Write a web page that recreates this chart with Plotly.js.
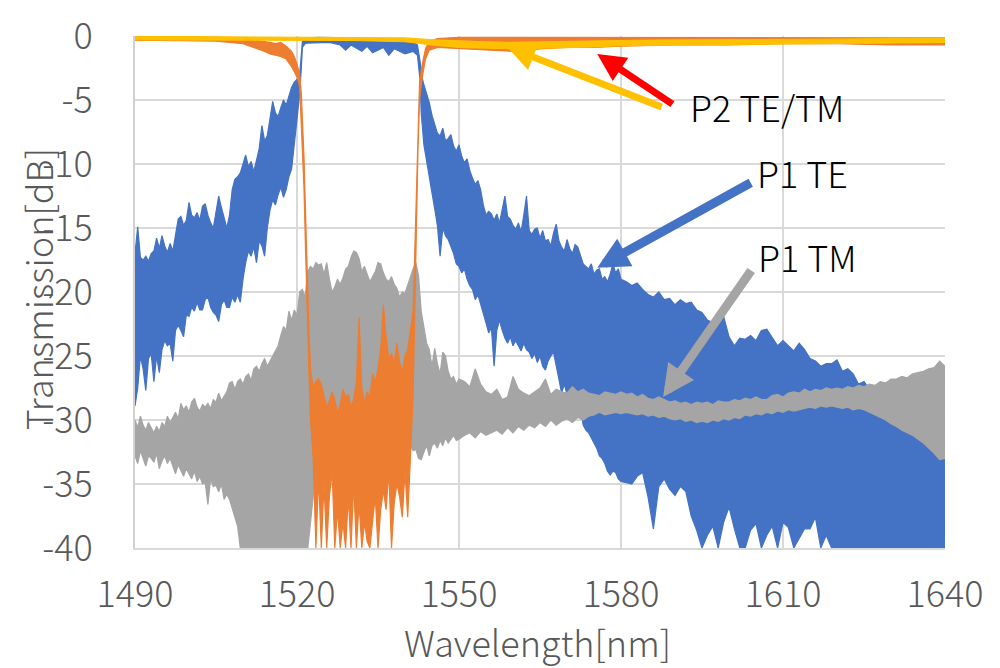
<!DOCTYPE html>
<html>
<head>
<meta charset="utf-8">
<script src="https://cdn.plot.ly/plotly-3.0.1.min.js"></script>
<style>
html,body{margin:0;padding:0;background:#fff;}
#chart{width:1000px;height:668px;}
</style>
</head>
<body>
<div id="chart"></div>
<script>
// ---------- tick labels ----------
const xTickVals = [1490, 1520, 1550, 1580, 1610, 1640];
const xTickText = ['1490', '1520', '1550', '1580', '1610', '1640'];
const yTickVals = [0, -5, -10, -15, -20, -25, -30, -35, -40];
const yTickText = ['0', '-5', '-10', '-15', '-20', '-25', '-30', '-35', '-40'];

// ---------- P1 TE (blue): wavelength, upper / lower envelope of the trace [dB] ----------
const p1teX = [
 1490,1490.5,1491,1491.5,1492,1492.5,1493,1493.5,1494,1494.5,
 1495,1495.5,1496,1496.5,1497,1497.5,1498,1498.5,1499,1499.5,
 1500,1500.5,1501,1501.5,1502,1502.5,1503,1503.5,1504,1504.5,
 1505,1505.5,1506,1506.5,1507,1507.5,1508,1508.5,1509,1509.5,
 1510,1510.5,1511,1511.5,1512,1512.5,1513,1513.5,1514,1514.5,
 1515,1515.5,1516,1516.5,1517,1517.5,1518,1518.5,1519,1519.5,
 1520,1520.5,
 1520.8,1521,1521.5,1522,1524,1526,1528,1529,1530,1532,1533,1534,1536,1537,1538,1540,1541.5,1542.3,1542.8,
 1543,1543.5,1544,1544.5,1545,1545.5,1546,1546.5,1547,1547.5,
 1548,1548.5,1549,1549.5,1550,1550.5,1551,1551.5,1552,1552.5,
 1553,1553.5,1554,1554.5,1555,1555.5,1556,1556.5,1557,1557.5,
 1558,1558.5,1559,1559.5,1560,1560.5,1561,1561.5,1562,1562.5,
 1563,1563.5,1564,1564.5,1565,1565.5,1566,1566.5,1567,1567.5,
 1568,1568.5,1569,1569.5,1570,1570.5,1571,1571.5,1572,1572.5,
 1573,1573.5,1574,1574.5,1575,1575.5,1576,1576.5,1577,1577.5,
 1578,1578.5,1579,1579.5,1580,
 1581,1582,1583,1584,1585,1586,1587,1588,1589,1590,
 1591,1592,1593,1594,1595,1596,1597,1598,1599,1600,
 1601,1602,1603,1604,1605,1606,1607,1608,1609,1610,
 1611,1612,1613,1614,1615,1616,1617,1618,1619,1620,
 1621,1622,1623,1624,1625,1626,1627,1628,1629,1630,
 1631,1632,1633,1634,1635,1636,1637,1638,1639,1640
];
const p1teHi = [
 -17.0,-14.9,-17.3,-17.5,-17.2,-17.6,-17.0,-16.8,-15.8,-16.6,
 -15.6,-16.4,-16.9,-16.2,-16.8,-15.6,-14.3,-14.1,-14.8,-14.4,
 -13.0,-14.0,-14.2,-13.8,-14.4,-13.3,-13.1,-14.0,-14.6,-15.0,
 -13.8,-12.5,-13.4,-14.2,-15.0,-14.0,-12.0,-11.2,-11.0,-10.7,
 -10.0,-9.3,-10.2,-9.8,-10.6,-9.8,-8.8,-7.0,-8.2,-7.8,
 -6.5,-5.1,-6.0,-6.3,-5.6,-5.0,-5.4,-4.6,-4.0,-3.6,
 -3.4,-3.0,
 -1.0,-0.4,-0.2,-0.15,-0.1,-0.1,-0.1,-0.15,-0.15,-0.3,-0.3,-0.35,-0.4,-0.4,-0.4,-0.45,-0.5,-0.7,-2.0,
 -3.0,-3.8,-4.5,-5.2,-6.2,-7.0,-7.6,-7.8,-7.2,-8.2,
 -8.0,-7.7,-8.6,-9.0,-8.5,-9.4,-9.9,-9.6,-10.5,-11.1,
 -11.6,-11.3,-12.0,-13.2,-14.0,-13.7,-13.9,-14.4,-13.9,-14.6,
 -13.6,-12.5,-14.1,-14.3,-14.8,-15.1,-14.6,-15.3,-14.0,-12.5,
 -15.2,-15.5,-15.1,-15.0,-15.8,-15.2,-16.0,-15.9,-16.4,-15.4,
 -14.7,-16.0,-16.5,-16.8,-15.9,-16.6,-17.0,-16.3,-16.5,-17.2,
 -17.8,-18.0,-18.2,-17.8,-18.6,-18.3,-18.2,-19.0,-18.8,-19.2,
 -18.6,-17.8,-18.5,-18.2,-19.0,
 -19.2,-19.5,-19.3,-19.8,-20.2,-20.4,-20.0,-20.6,-20.5,-21.0,
 -20.6,-20.9,-20.8,-21.4,-21.6,-22.2,-22.4,-22.0,-21.9,-23.5,
 -24.2,-23.6,-23.7,-23.4,-23.8,-23.0,-22.9,-23.6,-24.2,-23.8,
 -24.2,-24.6,-24.0,-24.5,-25.2,-25.4,-25.8,-25.6,-25.6,-25.3,
 -26.2,-26.0,-26.4,-27.2,-27.0,-27.6,-27.4,-28.1,-28.4,-28.8,
 -29.2,-29.5,-29.6,-30.2,-30.5,-31.0,-31.4,-31.8,-32.3,-32.3
];
const p1teLo = [
 -28.9,-27.5,-25.0,-26.0,-27.7,-25.2,-24.8,-27.0,-25.0,-26.3,
 -24.5,-23.8,-24.2,-24.0,-25.4,-23.0,-22.6,-23.0,-23.5,-21.8,
 -21.9,-21.2,-21.5,-20.8,-21.4,-21.4,-20.6,-20.4,-21.2,-21.6,
 -21.8,-22.3,-21.0,-20.6,-21.2,-21.2,-20.4,-20.8,-20.2,-20.8,
 -19.0,-17.7,-16.8,-17.2,-16.5,-17.7,-16.0,-16.4,-17.2,-15.0,
 -13.6,-12.8,-13.2,-12.4,-11.8,-12.6,-12.0,-11.0,-10.4,-8.6,
 -6.5,-4.5,
 -2.5,-0.9,-0.6,-0.55,-0.5,-0.5,-0.7,-1.1,-0.7,-1.2,-0.8,-1.3,-0.9,-1.5,-1.0,-1.4,-1.2,-1.5,-3.5,
 -6.0,-8.5,-9.6,-11.0,-12.2,-13.5,-14.8,-17.2,-15.0,-15.6,
 -15.9,-16.4,-17.0,-17.8,-18.0,-18.5,-18.2,-19.0,-19.5,-19.8,
 -20.6,-20.2,-21.0,-21.6,-22.4,-23.2,-22.8,-25.8,-23.0,-22.2,
 -23.0,-23.6,-24.0,-23.5,-24.2,-23.8,-24.2,-24.6,-24.0,-24.5,
 -24.7,-25.2,-24.8,-25.5,-25.0,-25.8,-26.1,-25.4,-25.0,-24.7,
 -25.6,-26.8,-27.9,-27.2,-28.0,-28.4,-28.2,-29.0,-29.8,-29.2,
 -30.4,-30.8,-31.0,-31.5,-31.8,-32.2,-32.8,-33.0,-33.4,-34.0,
 -34.3,-34.0,-34.1,-34.6,-34.8,
 -34.9,-35.0,-34.4,-34.1,-36.0,-38.5,-35.2,-34.6,-35.4,-35.9,
 -35.2,-35.6,-37.5,-38.6,-40,-39.0,-38.3,-40,-38.0,-36.8,
 -38.5,-40,-40,-38.6,-38.1,-40,-39.0,-38.3,-40,-38.0,
 -38.4,-40,-39.2,-38.5,-38.5,-37.6,-40,-39.0,-40,-40,
 -40,-40,-40,-40,-40,-40,-40,-40,-40,-40,
 -40,-40,-40,-40,-40,-40,-40,-40,-40,-40
];

// ---------- P1 TM (gray) ----------
const p1tmX = [
 1490,1490.5,1491,1491.5,1492,1492.5,1493,1493.5,1494,1494.5,
 1495,1495.5,1496,1496.5,1497,1497.5,1498,1498.5,1499,1499.5,
 1500,1500.5,1501,1501.5,1502,1502.5,1503,1503.5,1504,1504.5,
 1505,1505.5,1506,1506.5,1507,1507.5,1508,1508.5,1509,1509.5,
 1510,1510.5,1511,1511.5,1512,1512.5,1513,1513.5,1514,1514.5,
 1515,1515.5,1516,1516.5,1517,1517.5,1518,1518.5,1519,1519.5,
 1520,1520.5,1521,1521.5,1522,1522.5,1523,1523.5,1524,1524.5,
 1525,1525.5,1526,1526.5,1527,1527.5,1528,1528.5,1529,1529.5,
 1530,1530.5,1531,1531.5,1532,1532.5,1533,1533.5,1534,1534.5,
 1535,1535.5,1536,1536.5,1537,1537.5,1538,1538.5,1539,1539.5,
 1540,1540.5,1541,1541.5,1542,1542.5,1543,1543.5,1544,1544.5,
 1545,1545.5,1546,1546.5,1547,1547.5,1548,1548.5,1549,1549.5,
 1550,
 1551,1552,1553,1554,1555,1556,1557,1558,1559,1560,
 1561,1562,1563,1564,1565,1566,1567,1568,1569,1570,
 1571,1572,1573,1574,1575,1576,1577,1578,1579,1580,
 1581,1582,1583,1584,1585,1586,1587,1588,1589,1590,
 1591,1592,1593,1594,1595,1596,1597,1598,1599,1600,
 1601,1602,1603,1604,1605,1606,1607,1608,1609,1610,
 1611,1612,1613,1614,1615,1616,1617,1618,1619,1620,
 1621,1622,1623,1624,1625,1626,1627,1628,1629,1630,
 1631,1632,1633,1634,1635,1636,1637,1638,1639,1640
];
const p1tmHi = [
 -30.0,-30.6,-29.7,-30.4,-30.8,-30.2,-30.6,-31.0,-30.5,-30.9,
 -30.2,-30.5,-29.7,-30.2,-29.8,-29.4,-29.9,-28.7,-29.2,-28.9,
 -29.4,-28.6,-28.3,-29.0,-29.3,-28.8,-29.0,-28.7,-29.1,-28.4,
 -28.6,-27.9,-28.5,-28.2,-27.8,-27.1,-27.0,-27.6,-27.0,-26.8,
 -27.2,-26.6,-26.4,-26.9,-26.0,-25.8,-26.2,-25.6,-25.2,-25.8,
 -25.4,-25.0,-24.6,-24.2,-23.4,-22.7,-23.0,-21.5,-22.2,-21.4,
 -21.8,-20.0,-19.8,-20.4,-18.4,-18.0,-18.2,-17.7,-17.9,-17.8,
 -18.6,-17.7,-19.0,-20.0,-19.6,-19.0,-19.4,-18.9,-18.2,-18.0,
 -17.3,-16.8,-16.9,-17.4,-18.4,-18.0,-18.6,-19.2,-18.8,-18.4,
 -17.7,-17.8,-18.5,-19.0,-19.2,-18.8,-19.4,-19.7,-20.4,-20.0,
 -20.1,-19.4,-18.8,-18.2,-17.7,-18.7,-21.5,-22.7,-24.0,-24.5,
 -25.8,-24.4,-25.6,-26.4,-24.7,-25.0,-26.2,-26.8,-26.6,-27.2,
 -26.8,
 -27.0,-27.4,-26.0,-27.2,-27.8,-28.0,-27.6,-28.4,-28.2,-26.6,
 -27.6,-27.9,-28.1,-27.8,-27.5,-26.8,-28.0,-27.6,-27.8,-27.9,
 -27.4,-27.8,-27.6,-27.9,-28.0,-28.1,-27.8,-27.9,-28.0,-27.8,
 -28.0,-27.9,-28.2,-28.0,-28.3,-28.4,-28.2,-28.4,-28.6,-28.5,
 -28.7,-28.6,-28.8,-28.6,-28.7,-28.6,-28.8,-28.5,-28.6,-28.6,
 -28.4,-28.5,-28.3,-28.4,-28.2,-28.4,-28.4,-28.1,-28.0,-28.2,
 -27.9,-27.8,-27.9,-27.6,-27.8,-27.6,-27.7,-27.5,-27.6,-27.5,
 -27.6,-27.4,-27.5,-27.3,-27.4,-27.2,-27.3,-27.0,-27.1,-26.8,
 -26.8,-26.6,-26.7,-26.4,-26.3,-26.2,-26.0,-25.9,-25.4,-25.8
];
const p1tmLo = [
 -32.8,-33.4,-32.4,-32.9,-33.6,-32.8,-33.0,-33.3,-32.6,-33.8,
 -33.2,-32.8,-33.4,-33.0,-33.6,-34.2,-33.5,-33.9,-34.4,-33.8,
 -34.2,-34.6,-34.0,-34.8,-34.4,-35.0,-34.9,-36.6,-34.6,-35.2,
 -35.1,-35.6,-35.0,-36.2,-35.8,-36.2,-37.0,-37.6,-38.3,-40,
 -40,-40,-40,-40,-40,-40,-40,-40,-40,-40,
 -40,-40,-40,-40,-40,-40,-40,-40,-40,-40,
 -40,-40,-40,-40,-40,-38.0,-36.0,-33.0,-31.5,-30.5,
 -31.0,-30.2,-31.4,-30.8,-31.6,-30.4,-31.2,-32.0,-31.0,-30.6,
 -31.5,-30.9,-31.8,-30.5,-31.0,-31.7,-30.8,-31.5,-32.2,-31.0,
 -30.6,-31.4,-30.8,-31.6,-32.0,-31.2,-30.6,-31.5,-32.3,-31.4,
 -30.8,-31.6,-32.0,-32.4,-32.3,-33.0,-33.1,-32.5,-32.0,-32.8,
 -32.0,-31.8,-32.2,-31.6,-32.0,-31.4,-31.8,-31.5,-31.2,-31.6,
 -31.5,
 -31.2,-31.0,-31.4,-30.9,-31.2,-31.0,-30.8,-31.1,-30.6,-31.0,
 -30.5,-30.8,-30.4,-30.6,-30.2,-30.5,-30.0,-30.4,-30.1,-29.9,
 -30.2,-29.8,-30.0,-29.7,-29.6,-29.4,-29.6,-29.5,-29.4,-29.5,
 -29.4,-29.5,-29.6,-29.5,-29.7,-29.6,-29.8,-29.7,-29.9,-30.0,
 -29.9,-30.1,-30.0,-30.2,-30.1,-30.2,-30.0,-30.1,-29.9,-30.0,
 -29.8,-29.9,-29.6,-29.7,-29.5,-29.6,-29.4,-29.5,-29.3,-29.4,
 -29.2,-29.3,-29.2,-29.1,-29.0,-29.1,-28.9,-29.0,-28.9,-29.0,
 -29.1,-29.0,-29.2,-29.1,-29.2,-29.4,-29.6,-29.8,-30.0,-30.3,
 -30.5,-30.8,-31.0,-31.2,-31.5,-31.8,-32.2,-32.6,-33.1,-33.0
];

// ---------- P2 TE (orange) ----------
const p2teX = [
 1490,1495,1500,1505,1510,1512,1514,1515,1516,1517,1518,1519,1519.5,1520,1520.5,1520.8,1521,1521.3,1521.6,1521.9,1522.2,
 1522.5,1523,1523.5,1524,1524.5,1525,1525.5,1526,1526.5,1527,1527.5,1528,1528.5,1529,1529.5,
 1530,1530.5,1531,1531.5,1532,1532.5,1533,1533.5,1534,1534.5,1535,1535.5,1536,1536.5,1537,1537.5,
 1538,1538.5,1539,1539.5,1540,1540.5,1541,1541.5,
 1541.8,1542.1,1542.4,1542.7,1543.2,1543.8,1544.5,1546,1550,1555,1560,1565,1570,1575,1580,1590,1600,1610,1620,1630,1640
];
const p2teHi = [
 -0.05,-0.05,-0.05,-0.1,-0.2,-0.3,-0.4,-0.5,-0.6,-0.5,-0.8,-1.2,-1.6,-2.2,-3.0,-4.5,-6.5,-9.5,-14,-19,-23,
 -26.0,-27.5,-27.0,-26.8,-27.2,-28.0,-29.0,-28.5,-27.8,-28.4,-29.5,-28.8,-27.6,-28.2,-28.0,
 -29.0,-28.4,-27.0,-22.0,-27.5,-28.6,-27.8,-28.2,-26.4,-27.0,-26.0,-24.5,-21.0,-23.5,-25.2,-24.8,
 -25.6,-24.0,-25.5,-26.2,-25.0,-24.5,-23.0,-21.5,
 -17,-12,-7,-3.5,-2.2,-1.0,-0.4,-0.2,-0.1,-0.1,-0.15,-0.1,-0.1,-0.1,-0.1,-0.1,-0.1,-0.1,-0.1,-0.1,-0.15
];
const p2teLo = [
 -0.35,-0.35,-0.35,-0.4,-0.6,-0.9,-1.2,-1.4,-1.5,-1.6,-1.8,-2.4,-2.8,-3.2,-4.0,-6.0,-8.5,-12,-17,-22,-26,
 -30,-33,-40,-34.5,-40,-35,-40,-36,-34,-40,-37,-40,-38,-40,-36,
 -40,-35,-40,-36.5,-40,-38,-39.5,-40,-37.9,-36,-40,-37,-35.5,-37,-34,-40,
 -36.5,-35,-36,-37.6,-34,-37.6,-33,-28,
 -22,-15,-9,-5,-3.2,-1.8,-1.1,-0.9,-1.0,-1.1,-1.2,-1.0,-0.9,-0.9,-0.8,-0.7,-0.7,-0.6,-0.6,-0.7,-0.7
];

// ---------- P2 TM (yellow) ----------
const p2tmX  = [1490,1500,1510,1520,1530,1540,1545,1550,1555,1560,1565,1570,1575,1580,1590,1600,1610,1620,1630,1640];
const p2tmHi = [-0.02,-0.05,-0.05,-0.1,-0.1,-0.15,-0.3,-0.4,-0.45,-0.5,-0.45,-0.4,-0.4,-0.35,-0.3,-0.3,-0.25,-0.25,-0.2,-0.2];
const p2tmLo = [-0.3,-0.3,-0.35,-0.35,-0.35,-0.45,-0.7,-0.9,-0.95,-1.0,-0.95,-0.9,-0.85,-0.75,-0.7,-0.65,-0.6,-0.6,-0.55,-0.5];

// ---------- labels ----------
const seriesNames = ['P1 TE', 'P1 TM', 'P2 TE', 'P2 TM'];
const labelText = ['P2 TE/TM', 'P1 TE', 'P1 TM'];

const COLORS = {p1te: '#4472C4', p1tm: '#A5A5A5', p2te: '#ED7D31', p2tm: '#FFC000', red: '#FF0000'};
const FONT = '"Noto Sans CJK JP", "Noto Sans", sans-serif';

function band(name, xs, hi, lo, color) {
  const rx = xs.slice().reverse();
  const rlo = lo.slice().reverse();
  return {
    name: name, type: 'scatter', mode: 'lines',
    x: xs.concat(rx), y: hi.concat(rlo),
    fill: 'toself', fillcolor: color,
    line: {color: color, width: 1.2},
    hoverinfo: 'skip', showlegend: false
  };
}

const data = [
  band(seriesNames[0], p1teX, p1teHi, p1teLo, COLORS.p1te),
  band(seriesNames[1], p1tmX, p1tmHi, p1tmLo, COLORS.p1tm),
  band(seriesNames[2], p2teX, p2teHi, p2teLo, COLORS.p2te),
  band(seriesNames[3], p2tmX, p2tmHi, p2tmLo, COLORS.p2tm)
];

function arrow(x, y, ax, ay, color, w, size) {
  return {x: x, y: y, ax: ax, ay: ay, xref: 'x', yref: 'y', axref: 'x', ayref: 'y',
          text: '', showarrow: true, arrowhead: 2, arrowsize: size, arrowwidth: w, arrowcolor: color, standoff: 0};
}
function label(x, y, t) {
  return {x: x, y: y, xref: 'x', yref: 'y', text: t, showarrow: false,
          xanchor: 'center', yanchor: 'middle', font: {family: FONT, size: 36, weight: 300, color: '#000000'}};
}

const annotations = [
  arrow(1558.9, -0.85, 1587.8, -5.6, COLORS.p2tm, 7, 0.8),
  arrow(1575.6, -1.4, 1589.8, -5.4, COLORS.red, 7, 0.8),
  arrow(1575.6, -18.1, 1604.3, -11.4, COLORS.p1te, 9, 0.7),
  arrow(1587.8, -28.2, 1604.3, -18.2, COLORS.p1tm, 9, 0.7),
  label(1607.1, -5.5, labelText[0]),
  label(1613.6, -10.6, labelText[1]),
  label(1614.5, -17.2, labelText[2]),
  {xref: 'paper', yref: 'paper', x: -0.12, y: 0.505, text: 'Transmission[dB]', textangle: -90,
   showarrow: false, xanchor: 'center', yanchor: 'middle', font: {family: FONT, size: 36, weight: 300, color: '#595959'}},
  {xref: 'paper', yref: 'paper', x: 0.497, y: -0.182, text: 'Wavelength[nm]',
   showarrow: false, xanchor: 'center', yanchor: 'middle', font: {family: FONT, size: 36, weight: 300, color: '#595959'}}
];

const layout = {
  width: 1000, height: 668,
  margin: {l: 135, r: 55, t: 36, b: 120, pad: 0},
  paper_bgcolor: '#ffffff', plot_bgcolor: '#ffffff',
  showlegend: false,
  font: {family: FONT, color: '#595959'},
  xaxis: {
    range: [1490, 1640], tickmode: 'array', tickvals: xTickVals, ticktext: xTickText,
    showgrid: true, gridcolor: '#D9D9D9', gridwidth: 2,
    showline: true, linecolor: '#D9D9D9', linewidth: 2, zeroline: false,
    ticks: '', ticklabelstandoff: 14,
    tickfont: {family: FONT, size: 36, weight: 300, color: '#595959'}, fixedrange: true
  },
  yaxis: {
    range: [-40, 0], tickmode: 'array', tickvals: yTickVals, ticktext: yTickText,
    showgrid: true, gridcolor: '#D9D9D9', gridwidth: 2,
    showline: true, linecolor: '#D0D0D0', linewidth: 2, zeroline: false,
    ticks: '', ticklabelstandoff: 33,
    tickfont: {family: FONT, size: 36, weight: 300, color: '#595959'}, fixedrange: true
  },
  annotations: annotations
};

Plotly.newPlot('chart', data, layout, {displayModeBar: false, staticPlot: true});
</script>
</body>
</html>
